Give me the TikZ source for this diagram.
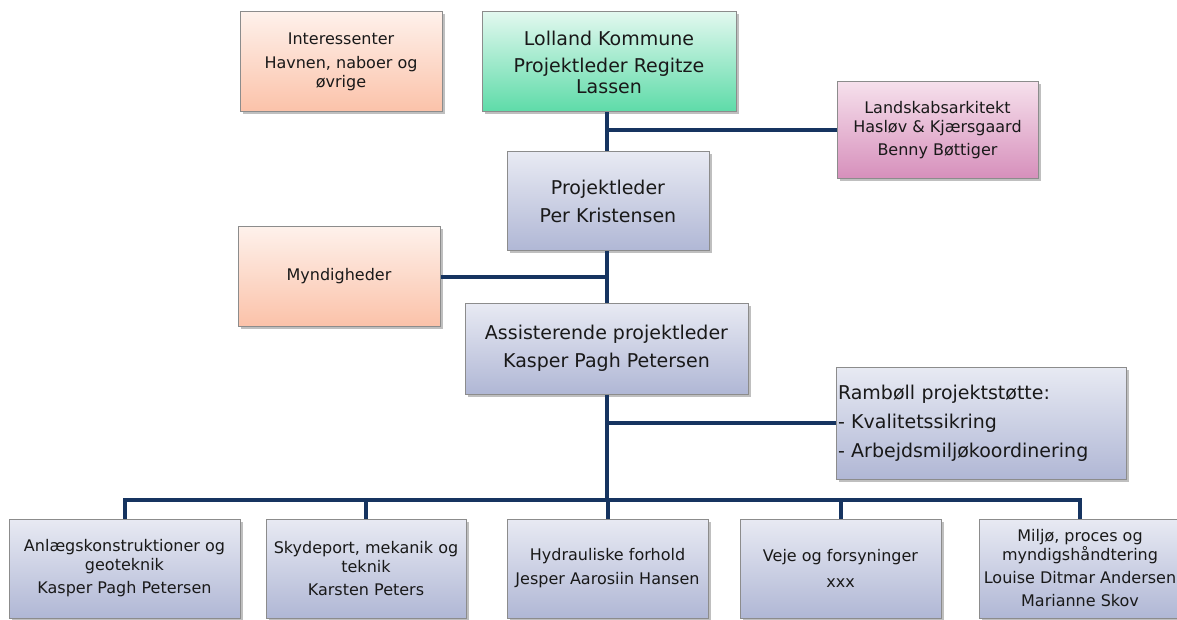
\documentclass[tikz,border=0pt]{standalone}
\usepackage{fontspec}
\setmainfont{DejaVu Sans}
\usetikzlibrary{shadows}

\definecolor{linkblue}{RGB}{22,52,96}
\definecolor{boxline}{RGB}{140,140,140}
\definecolor{txt}{RGB}{25,25,25}
\definecolor{bluetop}{RGB}{232,234,243}
\definecolor{bluebot}{RGB}{176,183,213}
\definecolor{greentop}{RGB}{226,248,239}
\definecolor{greenbot}{RGB}{93,219,168}
\definecolor{peachtop}{RGB}{254,241,235}
\definecolor{peachbot}{RGB}{251,194,169}
\definecolor{pinktop}{RGB}{246,224,236}
\definecolor{pinkbot}{RGB}{214,143,187}

\begin{document}
\begin{tikzpicture}[x=1pt,y=-1pt,
  box/.style={draw=boxline, line width=1pt, text=txt, align=center, inner sep=2pt,
    drop shadow={shadow xshift=2.5pt, shadow yshift=-2.5pt, opacity=0.5}},
  bluebox/.style={box, top color=bluetop, bottom color=bluebot},
  greenbox/.style={box, top color=greentop, bottom color=greenbot},
  peachbox/.style={box, top color=peachtop, bottom color=peachbot},
  pinkbox/.style={box, top color=pinktop, bottom color=pinkbot},
  small/.style={font=\fontsize{16}{19}\selectfont},
  big/.style={font=\fontsize{19}{21}\selectfont},
  link/.style={draw=linkblue, line width=4pt}]

\useasboundingbox (0,0) rectangle (1177,620);

% top row
\node[peachbox, small, minimum width=202pt, minimum height=100pt] (inter) at (341,62)
  {Interessenter\\[5pt]Havnen, naboer og\\øvrige};
\node[greenbox, big, minimum width=254pt, minimum height=100pt] (lolland) at (609,62)
  {Lolland Kommune\\[6pt]Projektleder Regitze\\Lassen};
\node[pinkbox, small, minimum width=201pt, minimum height=97pt] (landskab) at (937.5,130.5)
  {Landskabsarkitekt\\Hasløv \& Kjærsgaard\\[4pt]Benny Bøttiger};

% project management
\node[bluebox, big, minimum width=202pt, minimum height=99pt] (per) at (608,201.5)
  {Projektleder\\[7pt]Per Kristensen};
\node[peachbox, small, minimum width=202pt, minimum height=99pt] (mynd) at (339,276.5)
  {Myndigheder};
\node[bluebox, big, minimum width=283pt, minimum height=91pt] (assist) at (606.5,348.5)
  {Assisterende projektleder\\[7pt]Kasper Pagh Petersen};
\node[bluebox, big, align=left, text width=286pt, minimum height=112pt] (ramboll) at (981,423)
  {Rambøll projektstøtte:\\[8pt]- Kvalitetssikring\\[8pt]- Arbejdsmiljøkoordinering};

% disciplines
\node[bluebox, small, minimum width=231pt, minimum height=99pt] (b1) at (124.5,568.5)
  {Anlægskonstruktioner og\\geoteknik\\[4pt]Kasper Pagh Petersen};
\node[bluebox, small, minimum width=200pt, minimum height=99pt] (b2) at (366,568.5)
  {Skydeport, mekanik og\\teknik\\[4pt]Karsten Peters};
\node[bluebox, small, minimum width=201pt, minimum height=99pt] (b3) at (607.5,568.5)
  {Hydrauliske forhold\\[5pt]Jesper Aarosiin Hansen};
\node[bluebox, small, minimum width=201pt, minimum height=99pt] (b4) at (840.5,568.5)
  {Veje og forsyninger\\[7pt]xxx};
\node[bluebox, small, minimum width=202pt, minimum height=99pt] (b5) at (1080,568.5)
  {Miljø, proces og\\myndigshåndtering\\[4pt]Louise Ditmar Andersen\\[4pt]Marianne Skov};

\coordinate (trunk) at (607,0);
\coordinate (bus) at (607,500);

% connectors
\draw[link] (trunk |- lolland.south) -- (trunk |- per.north);
\draw[link] (trunk |- landskab.west) -- (landskab.west);
\draw[link] (trunk |- per.south) -- (trunk |- assist.north);
\draw[link] (trunk |- mynd.east) -- (mynd.east);
\draw[link] (trunk |- assist.south) -- (bus);
\draw[link] (trunk |- ramboll.west) -- (ramboll.west);
\draw[link] (b1.north) |- (bus) -| (b5.north);
\foreach \b in {b2,b3,b4}
  \draw[link] (\b.north) -- (\b.north |- bus);

\end{tikzpicture}
\end{document}
